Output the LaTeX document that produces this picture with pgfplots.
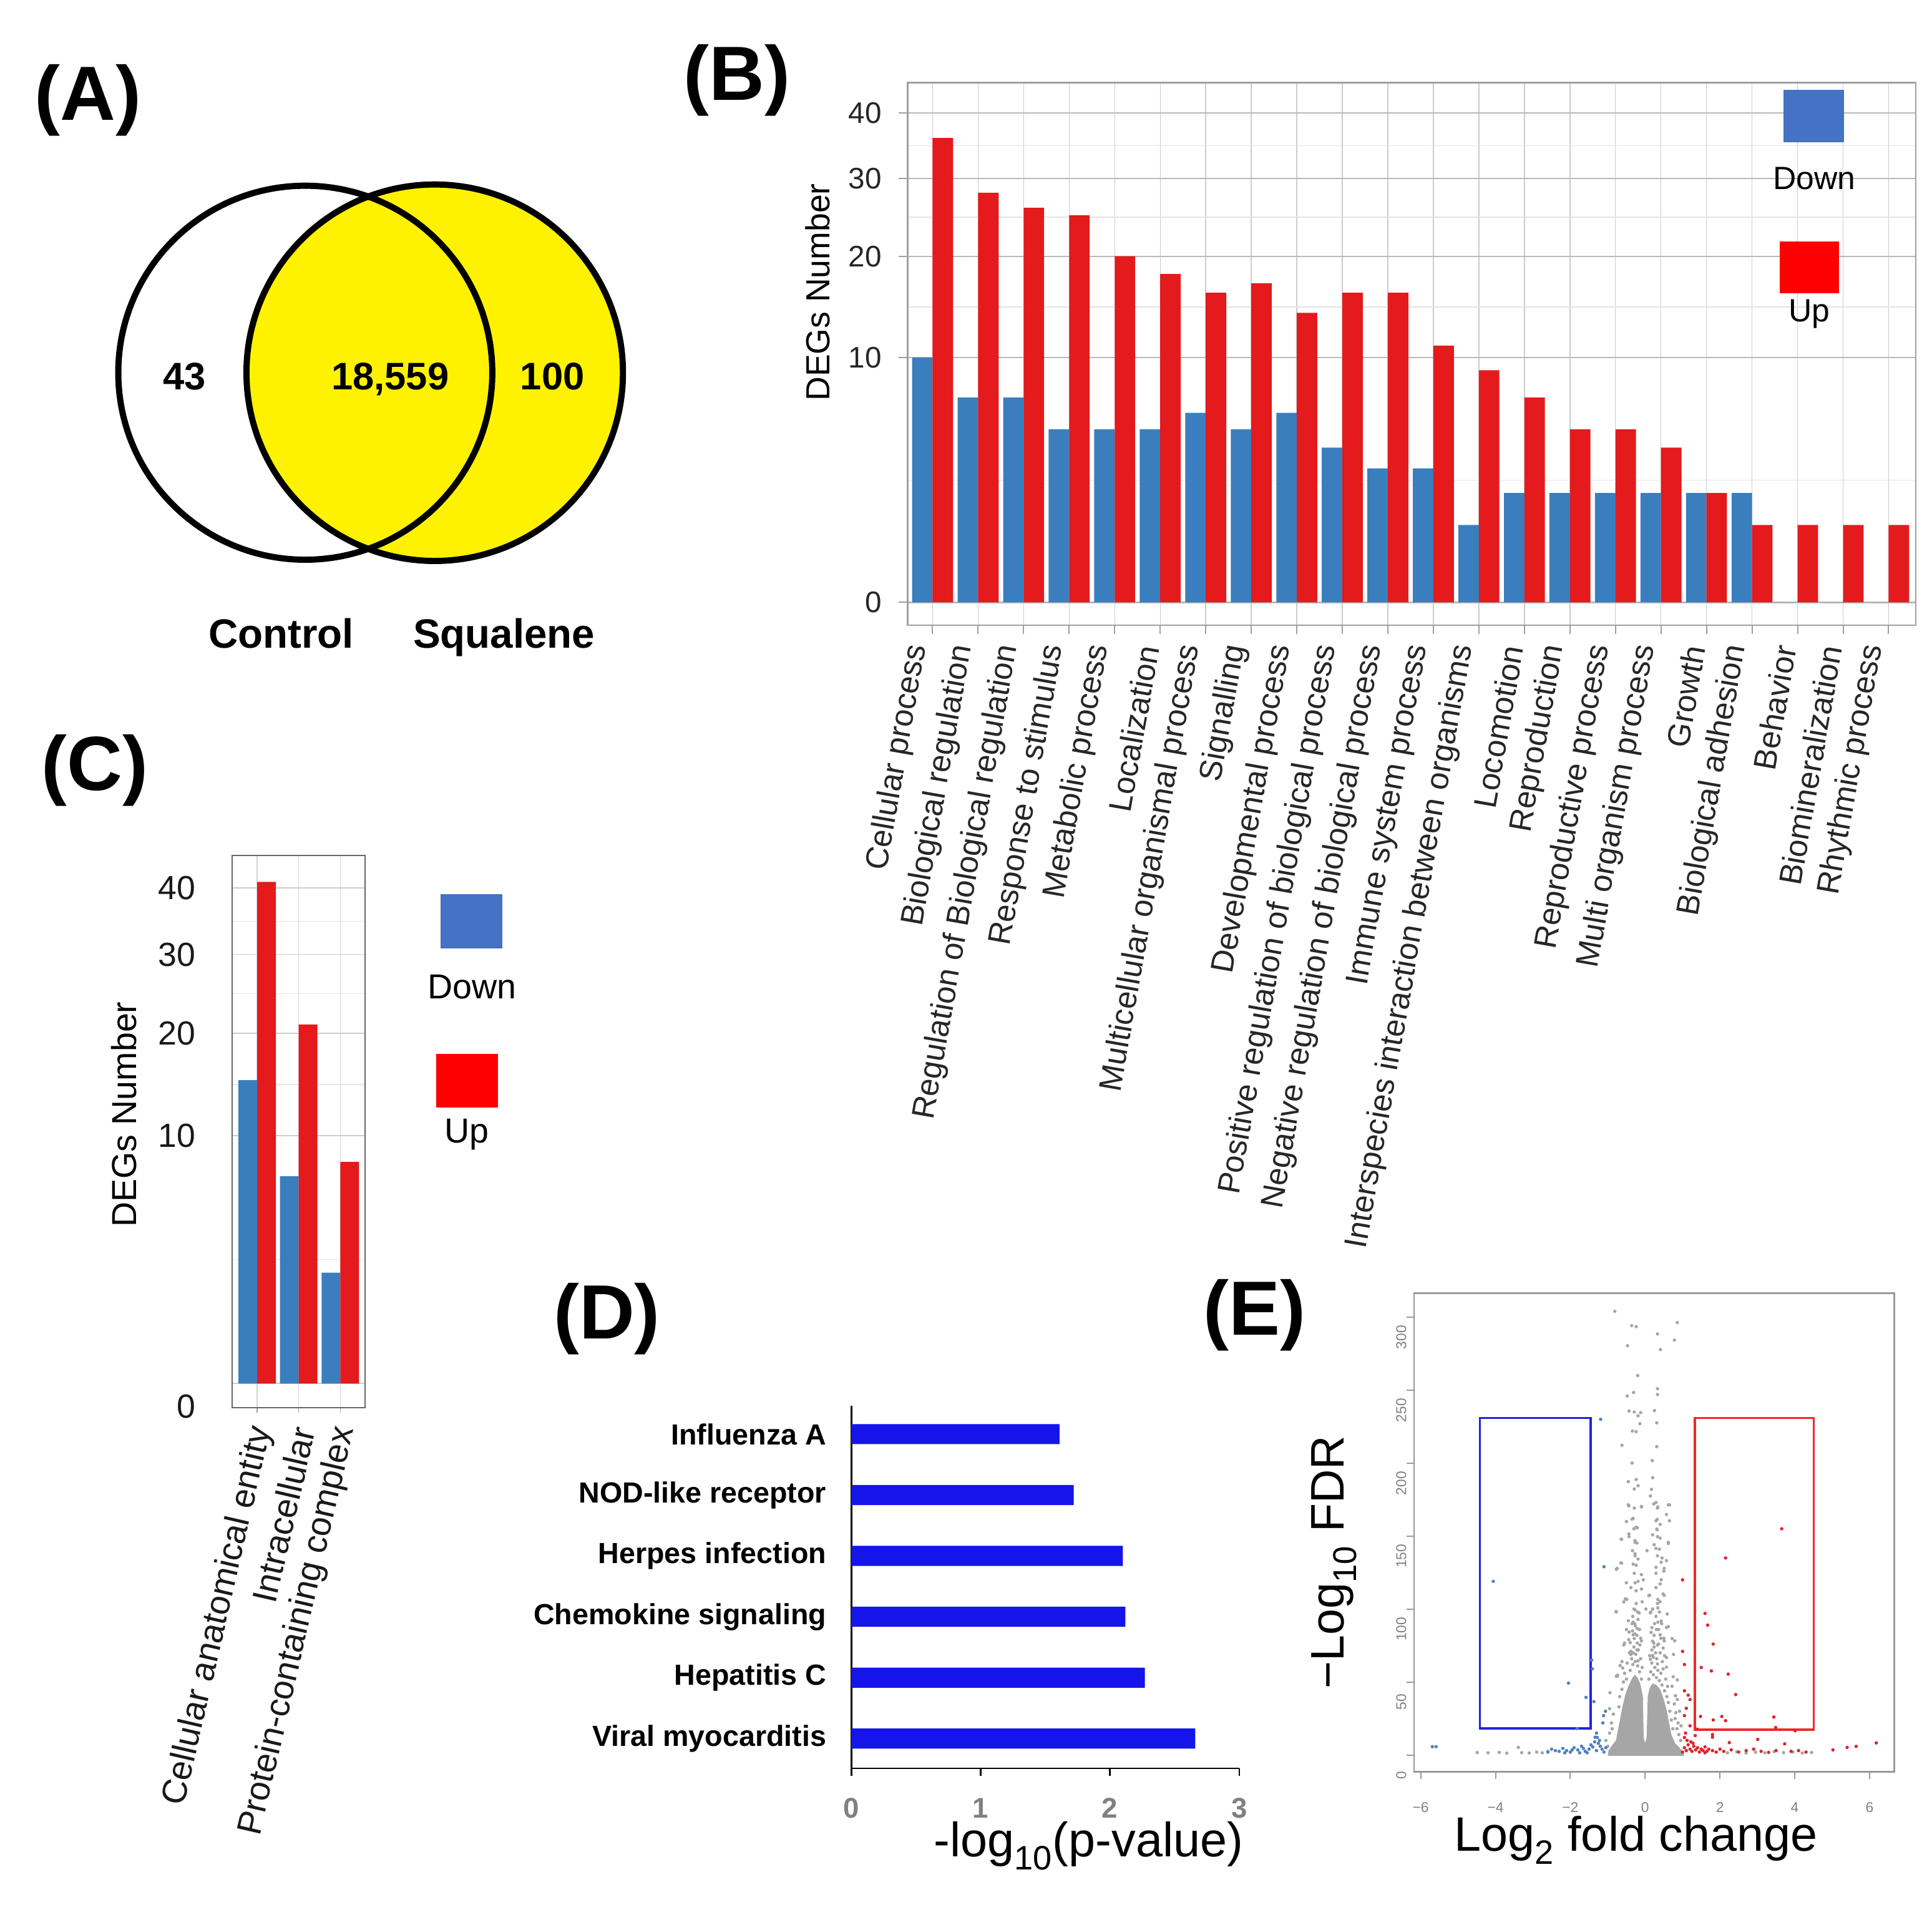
\documentclass[border=0pt]{standalone}
\usepackage{pgfplots}
\pgfplotsset{compat=1.18}
\usepackage{pgfplotstable}
\usepackage{fontspec}
\setmainfont{Liberation Sans}
\definecolor{barblue}{RGB}{58,126,190}
\definecolor{barred}{RGB}{228,26,28}
\definecolor{legblue}{RGB}{68,114,196}
\definecolor{legred}{RGB}{255,0,0}
\definecolor{kegg}{RGB}{20,20,235}
\definecolor{ptgray}{RGB}{166,166,166}
\definecolor{ptblue}{RGB}{80,130,190}
\definecolor{ptred}{RGB}{225,35,45}
\definecolor{boxblue}{RGB}{35,35,225}
\definecolor{boxred}{RGB}{240,40,40}
\newcommand{\fs}[1]{\fontsize{#1}{#1}\selectfont}

\pgfplotstableread{
idx down up
0 10 36
1 7 28
2 7 26
3 5 25
4 5 20
5 5 18
6 6 16
7 5 17
8 6 14
9 4 16
10 3 16
11 3 11
12 1 9
13 2 7
14 2 5
15 2 5
16 2 4
17 2 2
18 2 1
19 0 1
20 0 1
21 0 1
}\goterms

\pgfplotstableread{
idx down up
0 15 41
1 7 21
2 2 8
}\ccterms

\begin{document}
\begin{tikzpicture}[x=1pt,y=1pt]

% ---------------- Panel A (Venn) ----------------
\node[font=\bfseries\fs{62}] at (71,1457.3) {(A)};
\fill[yellow] (351,1237.3) circle (152);
\draw[line width=5pt] (246.5,1237.3) circle (151);
\draw[line width=5pt] (351,1237.3) circle (152);
\node[font=\bfseries\fs{31},anchor=base] at (149,1223.6) {43};
\node[font=\bfseries\fs{31},anchor=base] at (315,1223.6) {18,559};
\node[font=\bfseries\fs{31},anchor=base] at (446,1223.6) {100};
\node[font=\bfseries\fs{33},anchor=base] at (227,1015) {Control};
\node[font=\bfseries\fs{33},anchor=base] at (407,1015) {Squalene};

% ---------------- Panel B ----------------
\node[font=\bfseries\fs{62}] at (595,1473.3) {(B)};
\begin{axis}[
  at={(732.8pt,1033.3pt)}, anchor=south west,
  scale only axis, width=814.2pt, height=438.3pt,
  xmin=-0.55, xmax=21.6, ymin=-0.296, ymax=6.715,
  xtick={0,...,21},
  xticklabels={Cellular process,Biological regulation,Regulation of Biological regulation,Response to stimulus,Metabolic process,Localization,Multicellular organismal process,Signalling,Developmental process,Positive regulation of biological process,Negative regulation of biological process,Immune system process,Interspecies interaction between organisms,Locomotion,Reproduction,Reproductive process,Multi organism process,Growth,Biological adhesion,Behavior,Biomineralization,Rhythmic process},
  ytick={0,3.16228,4.47214,5.47723,6.32456},
  yticklabels={0,10,20,30,40},
  minor ytick={1.58114,3.81721,4.97468,5.90089},
  xmajorgrids, ymajorgrids, yminorgrids,
  x grid style={gray!40, line width=0.7pt},
  y grid style={gray!55, line width=1.1pt},
  minor y grid style={gray!22, line width=0.8pt},
  axis line style={gray!75, line width=1.2pt},
  tick pos=left, tick align=outside,
  major tick length=7pt, minor tick length=0pt,
  tick style={gray!75, line width=1pt},
  xticklabel style={font=\fs{25.7}, text=black!85, inner sep=0pt, yshift=-11pt, rotate=80, anchor=south east},
  yticklabel style={font=\fs{24}, text=black!85, inner sep=0pt, anchor=east, xshift=-13.8pt},
]
\addplot[ybar, bar width=0.45, bar shift=-0.225, fill=barblue, draw=none] table[x=idx, y expr={sqrt(\thisrow{down})}] {\goterms};
\addplot[ybar, bar width=0.45, bar shift=0.225, fill=barred, draw=none] table[x=idx, y expr={sqrt(\thisrow{up})}] {\goterms};
\end{axis}
\node[font=\fs{27}, rotate=90] at (660,1302.3) {DEGs Number};
\fill[legblue] (1440,1423.3) rectangle (1489,1465.8);
\node[font=\fs{26}, anchor=base] at (1465,1385.4) {Down};
\fill[legred] (1437,1301.3) rectangle (1485,1343.3);
\node[font=\fs{26}, anchor=base] at (1461,1278.5) {Up};

% ---------------- Panel C ----------------
\node[font=\bfseries\fs{62}] at (76.5,916.3) {(C)};
\begin{axis}[
  at={(187.5pt,401.4pt)}, anchor=south west,
  scale only axis, width=107.4pt, height=445.9pt,
  xmin=-0.6, xmax=2.6, ymin=-0.311, ymax=6.738,
  xtick={0,1,2},
  xticklabels={Cellular anatomical entity,Intracellular,Protein-containing complex},
  ytick={0,3.16228,4.47214,5.47723,6.32456},
  yticklabels={\raisebox{-27.7pt}[0pt][0pt]{0},10,20,30,40},
  minor ytick={1.58114,3.81721,4.97468,5.90089},
  xmajorgrids, ymajorgrids, yminorgrids,
  x grid style={gray!35, line width=0.7pt},
  y grid style={gray!40, line width=0.8pt},
  minor y grid style={gray!20, line width=0.7pt},
  axis line style={gray!80!black, line width=1pt},
  tick pos=left, tick align=outside,
  major tick length=4pt, minor tick length=0pt,
  xtick style={gray!75, line width=0.8pt},
  ytick style={draw=none},
  xticklabel style={font=\fs{28}, text=black!90, inner sep=0pt, yshift=-11.5pt, xshift=4pt, rotate=77, anchor=east},
  yticklabel style={font=\fs{27}, text=black!90, inner sep=0pt, anchor=east, xshift=-25.5pt},
]
\addplot[ybar, bar width=0.45, bar shift=-0.225, fill=barblue, draw=none] table[x=idx, y expr={sqrt(\thisrow{down})}] {\ccterms};
\addplot[ybar, bar width=0.45, bar shift=0.225, fill=barred, draw=none] table[x=idx, y expr={sqrt(\thisrow{up})}] {\ccterms};
\end{axis}
\node[font=\fs{28}, rotate=90] at (100,638.3) {DEGs Number};
\fill[legblue] (355.7,772.3) rectangle (405.8,816.3);
\node[font=\fs{28}, anchor=base] at (381.2,731.9) {Down};
\fill[legred] (352,644) rectangle (402,687.3);
\node[font=\fs{28}, anchor=base] at (376.8,615.4) {Up};

% ---------------- Panel D ----------------
\node[font=\bfseries\fs{62}] at (490,473.3) {(D)};
\begin{axis}[
  at={(687.4pt,110.3pt)}, anchor=south west,
  scale only axis, width=313.2pt, height=293pt,
  xmin=0, xmax=3, ymin=-0.49, ymax=5.47,
  axis x line*=bottom, axis y line*=left,
  axis line style={black, line width=1.3pt},
  xtick={0,1,2,3}, xticklabels={0,1,2,3},
  ytick={0,...,5},
  yticklabels={Viral myocarditis,Hepatitis C,Chemokine signaling,Herpes infection,NOD-like receptor\hspace{7pt},Influenza A},
  tick align=outside, major tick length=6pt,
  xtick style={black, line width=1.3pt},
  ytick style={draw=none},
  xticklabel style={font=\bfseries\fs{23}, text=gray, inner sep=0pt, anchor=north, yshift=-18pt},
  yticklabel style={font=\bfseries\fs{23.5}, inner sep=0pt, anchor=east, xshift=-14pt},
]
\addplot[xbar, bar width=0.33, fill=kegg, draw=none] coordinates {(2.66,0) (2.27,1) (2.12,2) (2.10,3) (1.72,4) (1.61,5)};
\end{axis}
\node[font=\fs{39}] at (879,47.6) {-log\textsubscript{10}(p-value)};

% ---------------- Panel E ----------------
\node[font=\bfseries\fs{62}] at (1013,476.3) {(E)};
\begin{axis}[
  at={(1141.7pt,107.6pt)}, anchor=south west,
  scale only axis, width=387.8pt, height=386.5pt,
  xmin=-6.18, xmax=6.66, ymin=-11.45, ymax=316.5,
  axis line style={gray!80, line width=1.2pt},
  tick pos=left, tick align=outside, major tick length=6pt,
  tick style={gray!80, line width=1pt},
  xtick={-6,-4,-2,0,2,4,6}, xticklabels={−6,−4,−2,0,2,4,6},
  ytick={0,50,100,150,200,250,300}, yticklabels={0,50,100,150,200,250,300},
  xticklabel style={font=\fs{11.5}, text=gray, inner sep=0pt, anchor=north, yshift=-18.8pt},
  yticklabel style={font=\fs{11.5}, text=gray, inner sep=0pt, rotate=90, anchor=south, xshift=-16.2pt},
]
% dense core of non-significant genes (outline)
\addplot[fill=ptgray, draw=none] coordinates {(-1.0,-0.5) (-0.98,3) (-0.9,6) (-0.78,10) (-0.72,18) (-0.66,26) (-0.6,34) (-0.52,42) (-0.45,47) (-0.36,52) (-0.28,55) (-0.2,53) (-0.12,48) (-0.06,40) (-0.04,12) (0,8) (0.04,12) (0.07,40) (0.12,46) (0.2,49) (0.3,48) (0.4,45) (0.5,38) (0.58,30) (0.64,22) (0.7,14) (0.8,8) (0.92,5) (1.0,2.5) (1.05,-0.5)} --cycle;
\addplot[only marks, mark=*, color=ptgray, mark size=1.15pt] coordinates {
(-0.81,304) (-0.36,294.2) (-0.24,293.5) (0.86,296.3) (0.33,288.5) (0.78,284.3) (-0.47,280.4) (0.41,277.8)
(0.33,251) (0.33,247) (-0.31,248.4) (-0.48,246) (-0.43,235.7) (-0.29,235) (-0.12,234.6) (-0.19,232.4)
(-0.14,227) (0.31,227.6) (-0.34,222) (-0.24,221.5) (-0.62,212.2) (0.31,211.3) (0.19,201.7) (-0.45,187.3)
(-0.24,188.8) (-0.19,184.5) (-0.29,182.3) (0.17,182) (0.14,177.5) (-0.45,171.4) (-0.29,169.2) (-0.10,170.3)
(0.29,173) (0.33,169.2) (0.62,171.4) (-0.35,161.6) (-0.24,156.1) (0.29,160.5) (0.31,154.8) (0.57,164.8)
(0.65,160.5) (-0.64,147.8) (-0.43,149.6) (-0.27,146.8) (-0.22,145.2) (0.33,149.6) (0.24,144.1) (0.62,145.7)
(-0.27,136.5) (-0.19,134.3) (-0.24,130) (0.33,136.5) (0.43,132.1) (0.57,133.2) (-0.75,127.8) (-0.65,131.5)
(-0.29,124.5) (-0.19,119) (-0.38,114.7) (-0.24,112.5) (0.29,124.5) (0.43,120.1) (0.29,114.7) (0.48,110.3)
(0.10,109.2) (-0.53,107) (-0.57,104.9) (-0.78,98.3) (-0.24,103.8) (-0.33,95) (-0.19,92.9) (-0.26,88.5)
(0.33,103.8) (0.29,95) (0.43,91.8) (0.57,87.4) (0.14,97.3) (-0.43,84.2) (-0.29,79.8) (-0.14,75.4)
(-0.57,75.4) (0.24,82) (0.33,75.4) (0.48,73.3) (0.72,79.8) (0.76,68.9) (-0.38,68.9) (-0.19,64.5)
(-0.67,61.3) (0.14,65.6) (0.33,62.4) (0.57,60.2) (-0.74,54.7) (0.75,53.6) (0.86,51.5) (-0.94,42.7)
(-0.95,31.8) (0.72,47.1) (0.81,40.6) (-0.77,98) (-0.74,54)
(-0.30,100) (-0.20,98) (-0.35,90) (-0.15,86) (-0.28,83) (-0.40,77) (-0.22,72) (-0.32,70) (-0.12,80)
(-0.45,92) (0.20,100) (0.38,98) (0.25,90) (0.36,86) (0.20,78) (0.42,80) (0.28,70) (0.52,68) (0.18,72)
(0.40,105) (-0.50,118) (0.50,126) (-0.34,140) (0.38,141) (-0.30,155) (0.40,158) (-0.50,160) (0.20,190)
(-0.35,200) (0.25,236) (-0.20,260) (0.05,140) (-0.05,120) (0.02,100) (-0.08,105)
(-0.435,170.7) (-0.10,170) (0.23,172) (0.34,170) (0.65,171.4) (-0.32,162.1) (0.32,161.4) (-0.21,155.7)
(0.32,154.3) (0.20,150.8) (-0.435,151.5) (-0.63,147.9) (-0.27,145.8) (0.40,148.6) (0.62,145) (0.29,141.5)
(-0.27,137.9) (0.45,135) (-0.63,131.5) (-0.77,127.2) (-0.32,130.8) (-0.10,123.6) (0.29,128.6) (0.51,127.9)
(-0.27,117.9) (0.40,117.2) (-0.10,113.7) (-0.49,106.6) (0.12,109.4) (0.34,106.6) (0.51,109.4) (-0.27,99.4)
(-0.16,97.3) (0.15,98) (0.34,100.8) (0.59,96.6) (-0.32,91) (-0.21,86.6) (0.18,87.3) (0.34,91) (0.62,88)
(-0.55,76.7) (-0.32,82.4) (-0.21,76.7) (-0.10,78.2) (0.23,76.7) (0.40,82.4) (0.51,78.2) (-0.38,71)
(0.20,68.2) (0.57,66.8) (0.79,78.2) (-0.60,59.6) (-0.77,54)
(-0.40,58) (-0.33,62) (-0.27,64) (-0.20,61) (-0.15,57) (-0.10,52) (-0.36,66) (-0.25,69) (-0.18,72)
(-0.30,74) (-0.42,70) (-0.48,63) (-0.55,56) (-0.58,50) (-0.62,45) (-0.50,52) (-0.44,79) (-0.22,82)
(-0.12,66) (-0.08,60) (-0.34,85) (-0.28,90) (-0.50,86) (-0.62,64) (-0.68,40) (-0.70,33)
(0.10,52) (0.15,57) (0.22,55) (0.30,53) (0.38,51) (0.45,48) (0.52,44) (0.58,40) (0.62,36) (0.66,30)
(0.18,63) (0.26,60) (0.34,58) (0.42,56) (0.48,59) (0.12,68) (0.22,67) (0.31,66) (0.40,70) (0.46,64)
(0.55,52) (0.60,47) (0.36,76) (0.24,74) (0.50,80) (0.16,84) (0.30,86) (0.44,90) (0.70,24) (0.74,18)
(-1.05,10) (-0.95,15) (-0.90,22) (-0.85,28) (-1.00,6) (-0.88,18) (0.80,25) (0.85,18) (0.90,14)
(0.95,10) (0.82,29) (0.78,35) (0.88,22) (0.92,30) (0.96,20) (0.86,38)
(-4.49,1.7) (-4.20,1.5) (-3.90,1.8) (-3.70,1.3) (-3.39,5.2) (-3.30,1.6) (-3.10,1.4) (-2.90,2.0)
(-2.75,1.5) (-2.60,2.5) (2.20,1.5) (2.45,2.2) (2.70,1.4) (2.95,1.9) (3.20,1.5) (3.45,2.3) (3.70,1.6)
(3.95,2.0) (4.20,1.4) (4.45,1.7)
};
\addplot[only marks, mark=*, color=ptblue, mark size=1.15pt] coordinates {
(-5.69,5.7) (-5.59,5.7) (-4.06,119) (-2.05,49.3) (-1.43,65) (-1.41,59) (-1.58,39.5) (-1.37,36.6)
(-1.82,18.1) (-1.34,12.2) (-1.19,230) (-1.10,129) (-1.11,27) (-1.13,22) (-1.06,30) (-1.28,12) (-1.30,15)
(-2.60,2) (-2.50,4) (-2.40,3) (-2.30,2.5) (-2.20,4.5) (-2.10,3) (-2.00,2) (-1.90,5) (-1.80,3.5)
(-1.70,6) (-1.60,2.5) (-1.50,4) (-1.45,7) (-1.40,5.5) (-1.30,3) (-1.25,8) (-1.20,6) (-1.15,4)
(-1.10,2) (-1.05,5) (-1.35,9) (-1.55,1.5) (-1.75,1.5) (-1.95,3.5) (-2.15,1.5) (-1.65,4.5) (-1.22,10)
};
\addplot[only marks, mark=*, color=ptred, mark size=1.15pt] coordinates {
(1.00,120) (3.65,155) (2.15,135) (1.60,97) (1.67,89) (1.82,76) (1.50,60) (1.77,57.6) (2.22,55.4)
(2.42,41.4) (1.00,71) (1.05,62) (1.05,44) (1.15,41) (1.20,38) (1.48,26.4) (1.82,24) (2.05,26.4)
(2.15,23.5) (3.44,26) (3.49,18.8) (4.01,16.6) (3.01,10.7) (2.25,8.5) (3.73,7.6) (5.02,3.5) (5.40,5.2)
(5.64,5.9) (6.18,8.3) (1.39,17.7) (1.80,14) (1.80,12.2) (1.34,13.3) (1.10,32) (1.05,27) (1.20,20)
(1.00,2) (1.05,5) (1.10,3) (1.15,7) (1.20,4) (1.25,2.5) (1.30,6) (1.35,3.5) (1.40,5) (1.45,2)
(1.50,4) (1.55,3) (1.60,5.5) (1.65,2.5) (1.70,4) (1.80,3) (1.90,2) (2.00,4) (1.12,10) (1.22,9)
(1.05,12) (1.28,8) (1.08,15) (1.60,1.5) (2.10,2.5) (2.30,3.5) (2.50,2) (2.70,3) (2.90,4) (3.10,2.5)
(3.30,1.8) (3.50,3) (3.90,2.5) (4.10,3) (4.30,2)
};
\addplot[boxblue, line width=1.8pt] coordinates {(-4.42,18.3) (-1.46,18.3) (-1.46,230.9) (-4.42,230.9)} --cycle;
\addplot[boxred, line width=1.8pt] coordinates {(1.33,17.3) (4.51,17.3) (4.51,230.9) (1.33,230.9)} --cycle;
\end{axis}
\node[font=\fs{38}, rotate=90] at (1077,276.8) {−Log\textsubscript{10} FDR};
\node[font=\fs{39}, anchor=base] at (1321,43.6) {Log\textsubscript{2} fold change};

\pgfresetboundingbox
\path[use as bounding box] (0,0) rectangle (1560,1538.3);
\end{tikzpicture}
\end{document}
